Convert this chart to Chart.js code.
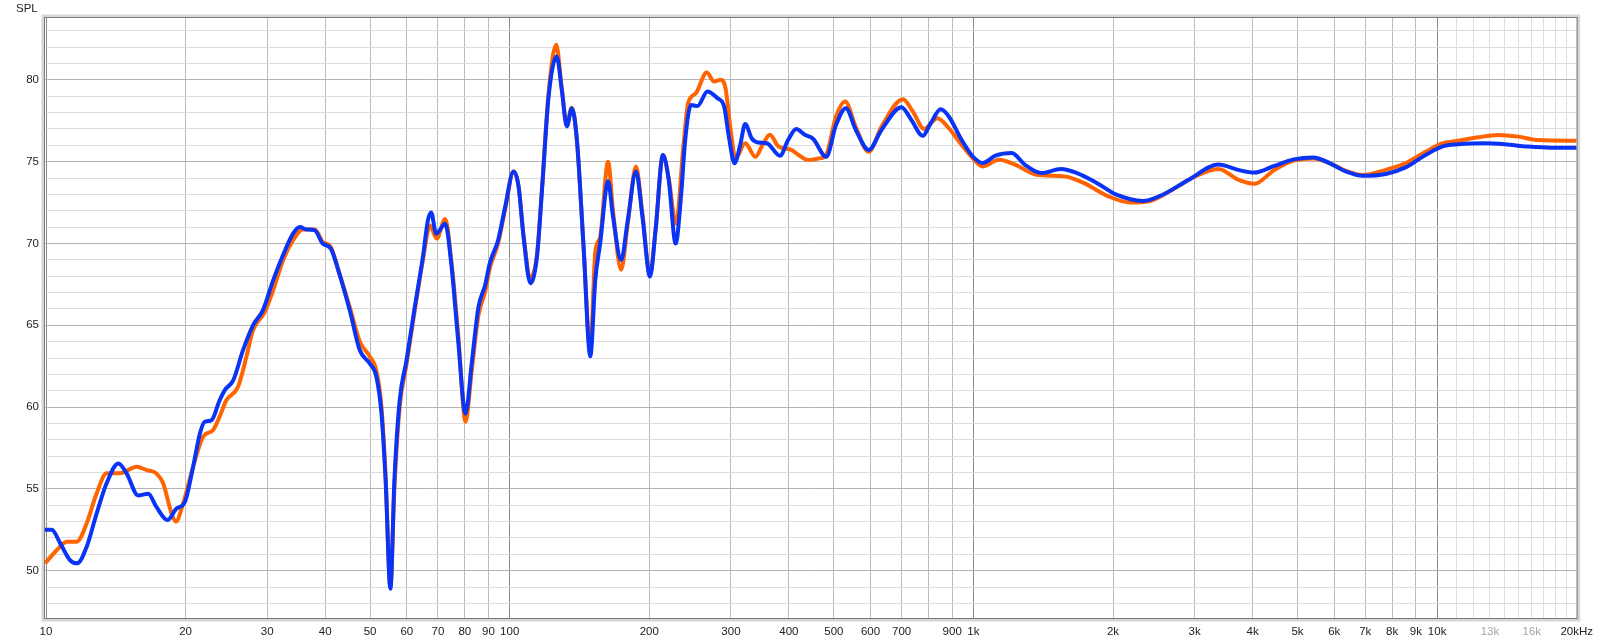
<!DOCTYPE html>
<html>
<head>
<meta charset="utf-8">
<script src="https://cdn.jsdelivr.net/npm/chart.js@4.4.1/dist/chart.umd.min.js"></script>
<style>
  html, body { margin: 0; padding: 0; background: #fff; }
</style>
</head>
<body>
<canvas id="splChart" width="1600" height="643"></canvas>
<script>
const freqOrange = [9.95, 10.72, 11.08, 11.64, 12.24, 12.86, 13.51, 14.43, 15.68, 16.48, 17.3, 17.89, 18.65, 19.05, 19.75,
  20.76, 21.82, 22.93, 23.67, 24.47, 25.95, 27.05, 27.95, 29.65, 30.9, 32.45, 34.1, 35.8, 38.0, 39.5, 41.1, 42.9,
  45.2, 47.5, 49.9, 51.6, 52.9, 54.0, 55.3, 56.4, 57.9, 59.9, 62.4, 65.0, 67.3, 69.6, 72.6, 74.8, 77.4, 80.3, 82.8,
  85.6, 88.6, 90.6, 94.4, 97.8, 101.9, 104.5, 107.1, 110.8, 114.5, 117.4, 121.3, 126.0, 129.5, 132.8, 136.1, 139.6,
  144.3, 149.2, 153.0, 156.7, 163.0, 167.0, 173.9, 179.7, 187.2, 193.3, 200.7, 206.3, 214, 220.2, 228.3, 237, 242.5,
  252, 266, 276, 285, 292, 299.5, 307, 322, 338.5, 352.5, 364, 379.7, 405, 422, 440, 465, 481, 505.6, 529, 557,
  594.5, 634, 705, 740, 783, 836, 885, 943, 996, 1047, 1135, 1230, 1367, 1570, 1728, 1956, 2178, 2396, 2690, 3008,
  3375, 3720, 4037, 4455, 4906, 5410, 5872, 6370, 6910, 7750, 8550, 9440, 10250, 11130, 12270, 13540, 14950, 16500, 20000];
const splOrange = [50.45, 51.47, 51.77, 51.77, 52.9, 54.73, 55.95, 55.95, 56.35, 56.15, 55.95, 55.34, 53.5, 53.0, 54.1,
  56.35, 58.19, 58.6, 59.4, 60.4, 61.24, 63.07, 64.7, 65.82, 67.15, 68.98, 70.2, 70.86, 70.86, 70.1, 69.8, 68.2,
  66.1, 64.0, 63.1, 62.2, 60.0, 55.8, 49.0, 55.0, 60.0, 62.6, 65.9, 69.0, 71.1, 70.3, 71.5, 69.0, 64.5, 59.1, 62.2,
  65.6, 67.1, 68.5, 70.0, 72.1, 74.4, 73.5, 70.5, 67.98, 69.3, 73.4, 79.2, 82.14, 79.5, 77.3, 78.3, 76.3,
  69.8, 63.5, 69.5, 70.4, 75.0, 72.0, 68.4, 71.2, 74.7, 71.8, 68.1, 70.8, 75.4, 74.0, 71.2, 76.0, 78.57,
  79.18, 80.45, 79.9, 80.0, 79.5, 76.95, 75.2, 76.13, 75.3, 76.13, 76.64, 75.93, 75.72, 75.36, 75.1, 75.2, 75.4, 77.76, 78.68, 77.15,
  75.6, 77.15, 78.82, 78.07, 77.0, 77.66, 77.05, 76.03, 75.22, 74.7, 75.12, 74.82, 74.2, 74.1, 73.7, 72.88, 72.5, 72.58, 73.3, 74.1,
  74.55, 73.9, 73.65, 74.49, 75.06, 75.2, 74.9, 74.43, 74.18, 74.5, 74.9, 75.6, 76.12, 76.28, 76.49, 76.63, 76.53, 76.32, 76.28];

const freqBlue = [9.95, 10.29, 10.72, 11.26, 11.68, 12.24, 12.86, 13.51, 14.32, 14.92, 15.8, 16.61, 17.3, 18.28, 19.12, 19.93,
  20.76, 21.48, 22.0, 22.75, 23.67, 24.3, 25.35, 26.6, 27.95, 29.37, 30.9, 32.45, 34.1, 35.3, 36.4, 38.0, 39.5, 41.1,
  42.9, 45.2, 47.5, 49.9, 51.6, 52.9, 54.0, 55.3, 56.4, 57.9, 59.9, 62.4, 65.0, 66.6, 67.7, 69.4, 72.6, 74.8, 77.4,
  80.3, 82.8, 85.6, 88.6, 90.6, 94.4, 97.8, 101.9, 104.5, 107.1, 110.8, 114.5, 117.4, 121.3, 126.3, 129.5, 132.8,
  136.1, 139.6, 144.3, 149.2, 153.0, 156.7, 163.0, 167.0, 173.9, 179.7, 187.2, 193.3, 200.7, 206.3, 214, 220.2, 228,
  234, 239, 246, 254, 267, 280.5, 290, 297, 305.4, 314, 322, 333, 344, 358.5, 382.6, 398.6, 415, 433, 451, 481.5,
  505.6, 530.8, 557.4, 594.5, 634, 699.7, 734.5, 777.5, 809, 850, 885, 943, 996, 1047, 1116, 1210, 1290, 1400, 1544,
  1673, 1845, 2035, 2320, 2560, 2914, 3375, 3720, 4037, 4455, 4906, 5410, 5872, 6370, 6910, 7750, 8550, 9440, 10250,
  11130, 12680, 13990, 15690, 17600, 20000];
const splBlue = [52.5, 52.5, 51.7, 50.65, 50.45, 51.47, 53.5, 55.34, 56.56, 55.95, 54.6, 54.7, 53.9, 53.1, 53.8, 54.2,
  56.35, 58.4, 59.1, 59.2, 60.4, 61.04, 61.65, 63.48, 65.0, 65.93, 67.76, 69.29, 70.6, 71.0, 70.86, 70.8, 70.0, 69.7,
  68.16, 65.9, 63.47, 62.66, 61.84, 59.6, 55.5, 48.9, 55.5, 60.4, 62.86, 66.1, 69.2, 71.4, 71.9, 70.6, 71.2, 68.77, 64.1,
  59.6, 62.66, 66.1, 67.5, 68.8, 70.2, 72.26, 74.4, 73.48, 70.43, 67.57, 69.2, 73.28, 78.98, 81.43, 79.39, 77.15,
  78.27, 76.33, 69.8, 63.1, 67.8, 70.0, 73.8, 71.65, 69.0, 71.4, 74.4, 71.65, 67.98, 70.8, 75.4, 73.9, 70.0,
  72.8, 76.3, 78.47, 78.4, 79.29, 78.88, 78.37, 76.5, 74.9, 76.0, 77.3, 76.4, 76.17, 76.13, 75.36, 76.33, 76.99, 76.64, 76.4, 75.3,
  77.25, 78.27, 76.95, 75.72, 76.95, 78.33, 77.56, 76.58, 77.35, 78.2, 77.76, 76.33, 75.33, 74.92, 75.37, 75.53, 74.82, 74.3, 74.55,
  74.3, 73.7, 72.98, 72.6, 72.98, 73.9, 74.82, 74.5, 74.33, 74.74, 75.14, 75.26, 74.9, 74.39, 74.14, 74.25, 74.65, 75.4, 75.92,
  76.06, 76.12, 76.06, 75.92, 75.85, 75.85];

// axis ticks
const freqTicks = [10, 20, 30, 40, 50, 60, 70, 80, 90, 100, 200, 300, 400, 500, 600, 700, 800, 900,
  1000, 2000, 3000, 4000, 5000, 6000, 7000, 8000, 9000,
  10000, 11000, 12000, 13000, 14000, 15000, 16000, 17000, 18000, 19000, 20000];
const freqTickLabels = ['10', '20', '30', '40', '50', '60', '70', '80', '90', '100', '200', '300', '400', '500', '600', '700', '', '900',
  '1k', '2k', '3k', '4k', '5k', '6k', '7k', '8k', '9k',
  '10k', '', '', '13k', '', '', '16k', '', '', '', '20kHz'];
const fadedLabels = [13000, 16000];
const splTicks = [48, 49, 50, 51, 52, 53, 54, 55, 56, 57, 58, 59, 60, 61, 62, 63, 64, 65, 66, 67,
  68, 69, 70, 71, 72, 73, 74, 75, 76, 77, 78, 79, 80, 81, 82, 83];
const splLabeled = [50, 55, 60, 65, 70, 75, 80];

const FONT = { family: '"Liberation Sans", Arial, sans-serif', size: 11.5 };

const toPoints = (fs, vs) => fs.map((f, i) => ({ x: f, y: vs[i] }));

// frame around the plot + the "SPL" caption
const plotFrame = {
  id: 'plotFrame',
  afterDraw(chart) {
    const { ctx, chartArea: a } = chart;
    ctx.save();
    ctx.strokeStyle = '#d6d6d6';
    ctx.lineWidth = 3;
    ctx.strokeRect(a.left - 2, a.top - 2, a.right - a.left + 4, a.bottom - a.top + 4);
    ctx.strokeStyle = '#7c7c7c';
    ctx.lineWidth = 1;
    ctx.strokeRect(a.left - 0.5, a.top - 0.5, a.right - a.left + 1, a.bottom - a.top + 1);
    ctx.fillStyle = '#222';
    ctx.font = '11.5px "Liberation Sans", Arial, sans-serif';
    ctx.textBaseline = 'alphabetic';
    ctx.fillText('SPL', 16, 12);
    ctx.restore();
  }
};

const ctx = document.getElementById('splChart').getContext('2d');
const splChart = new Chart(ctx, {
  type: 'line',
  data: {
    datasets: [{
      label: 'Blue',
      data: toPoints(freqBlue, splBlue),
      borderColor: '#0a34f5',
      borderWidth: 4,
      pointRadius: 0,
      cubicInterpolationMode: 'monotone',
      order: 0
    }, {
      label: 'Orange',
      data: toPoints(freqOrange, splOrange),
      borderColor: '#ff6400',
      borderWidth: 4,
      pointRadius: 0,
      cubicInterpolationMode: 'monotone',
      order: 1
    }]
  },
  options: {
    responsive: false,
    animation: false,
    layout: { padding: { top: 18, right: 22, left: 0, bottom: 0 } },
    plugins: {
      legend: { display: false },
      tooltip: { enabled: false }
    },
    scales: {
      x: {
        type: 'logarithmic',
        min: 9.95,
        max: 20000,
        afterBuildTicks: (scale) => { scale.ticks = freqTicks.map(v => ({ value: v })); },
        afterFit: (scale) => { scale.height = 25; },
        border: { display: false },
        grid: {
          drawTicks: false,
          color: (c) => {
            const v = c.tick && c.tick.value;
            if (v === 10 || v === 100 || v === 1000 || v === 10000) return '#8a8a8a';
            if (v > 10000) return '#dedede';
            return '#bcbcbc';
          }
        },
        ticks: {
          autoSkip: false,
          maxRotation: 0,
          padding: 7,
          font: FONT,
          color: (c) => fadedLabels.includes(c.tick.value) ? '#a4a4a4' : '#222',
          callback: (value, index) => freqTickLabels[index]
        }
      },
      y: {
        min: 47.11,
        max: 83.78,
        afterBuildTicks: (scale) => { scale.ticks = splTicks.map(v => ({ value: v })); },
        afterFit: (scale) => { scale.width = 45; },
        border: { display: false },
        grid: {
          drawTicks: false,
          color: (c) => splLabeled.includes(c.tick && c.tick.value) ? '#b4b4b4' : '#dcdcdc'
        },
        ticks: {
          padding: 6,
          font: FONT,
          color: '#222',
          callback: (value) => splLabeled.includes(value) ? String(value) : ''
        }
      }
    }
  },
  plugins: [plotFrame]
});
</script>
</body>
</html>
